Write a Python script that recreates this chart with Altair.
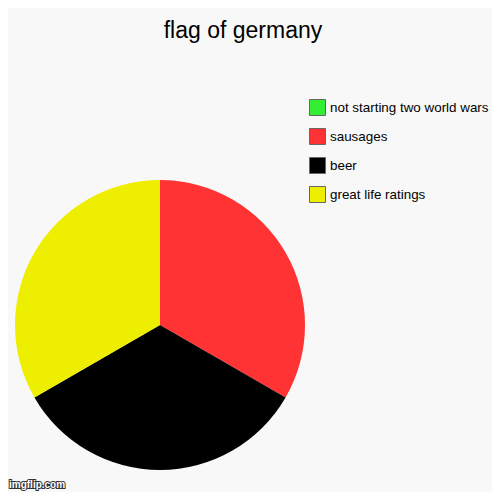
import altair as alt
import pandas as pd

categories = ["sausages", "beer", "great life ratings", "not starting two world wars"]
values = [1, 1, 1, 0]
legend_order = ["not starting two world wars", "sausages", "beer", "great life ratings"]
legend_colors = ["#33ee33", "#ff3333", "#000000", "#eeee00"]
title_text = "flag of germany"
watermark = "imgflip.com"

df = pd.DataFrame({"category": categories, "value": values, "order": list(range(len(categories)))})

pie = alt.Chart(df).mark_arc(radius=145, stroke=None).encode(
    theta=alt.Theta("value:Q", stack=True),
    order=alt.Order("order:Q"),
    x=alt.value(152),
    y=alt.value(317),
    color=alt.Color(
        "category:N",
        scale=alt.Scale(domain=legend_order, range=legend_colors),
        legend=alt.Legend(
            title=None,
            orient="none",
            legendX=301,
            legendY=91,
            symbolType="square",
            symbolSize=256,
            symbolStrokeColor="#666666",
            symbolStrokeWidth=1,
            symbolOpacity=1,
            labelFont="Liberation Sans",
            labelFontSize=13.4,
            labelColor="#000000",
            labelOffset=4,
            rowPadding=8,
            padding=0,
            labelLimit=300,
        ),
    ),
)

title = alt.Chart(pd.DataFrame({"t": [title_text]})).mark_text(
    font="Liberation Sans", fontSize=23, color="#000000", align="center", baseline="alphabetic"
).encode(text="t:N", x=alt.value(235), y=alt.value(30))

wm = alt.Chart(pd.DataFrame({"t": [watermark]})).mark_text(
    font="Liberation Sans", fontSize=10, fontWeight="bold", color="#ffffff", stroke="#333333",
    strokeWidth=2, align="left", baseline="alphabetic"
).encode(text="t:N", x=alt.value(1), y=alt.value(480))

wm2 = alt.Chart(pd.DataFrame({"t": [watermark]})).mark_text(
    font="Liberation Sans", fontSize=10, fontWeight="bold", color="#ffffff",
    align="left", baseline="alphabetic"
).encode(text="t:N", x=alt.value(1), y=alt.value(480))

chart = alt.layer(pie, title, wm, wm2).properties(
    width=484, height=484, background="#f8f8f8",
    autosize=alt.AutoSizeParams(type="none"), padding=0
).configure_view(stroke=None)

chart.save("out.html", embed_options={"renderer": "svg", "actions": False})
